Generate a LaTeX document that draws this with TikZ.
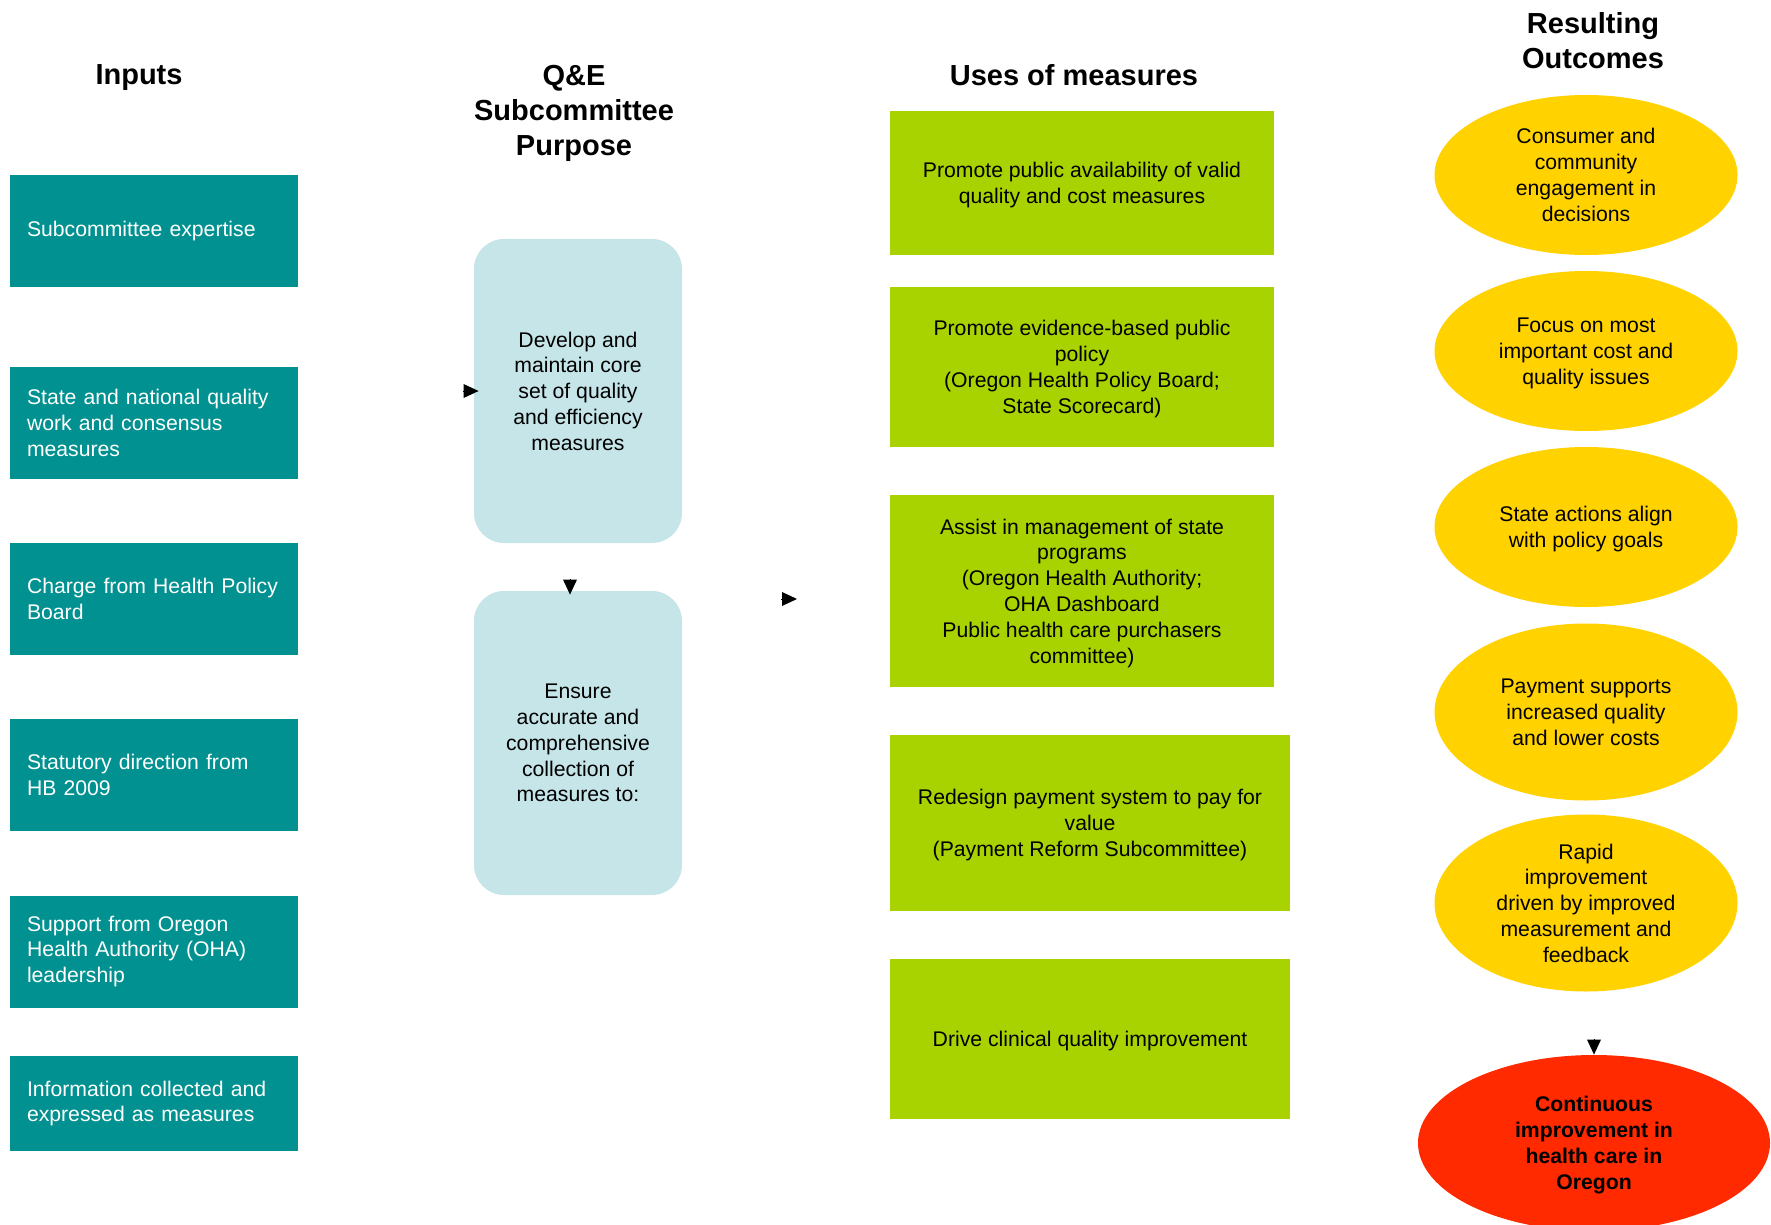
\documentclass[tikz,border=0pt]{standalone}
\usepackage{fontspec}
\setmainfont{Liberation Sans}
\usetikzlibrary{shapes.geometric,arrows.meta}
\definecolor{inteal}{HTML}{009190}
\definecolor{purpblue}{HTML}{C5E5E8}
\definecolor{usegreen}{HTML}{A9D300}
\definecolor{outyellow}{HTML}{FFD200}
\definecolor{finalred}{HTML}{FF2A00}
\tikzset{
  body/.style={font=\fontsize{10.6}{12.9}\selectfont},
  head/.style={font=\fontsize{14.5}{17.5}\selectfont\bfseries,align=center,
    text depth=0pt},
  inbox/.style={body,fill=inteal,text=white,align=left,text width=127pt,
    inner xsep=8.5pt,inner ysep=0pt,minimum height=56pt},
  purpbox/.style={body,fill=purpblue,rounded corners=15pt,align=center,
    text depth=0pt,minimum width=104pt,minimum height=152pt},
  usebox/.style={body,fill=usegreen,align=center,text depth=0pt,inner sep=0pt},
  outell/.style={body,ellipse,fill=outyellow,align=center,text depth=0pt,
    inner sep=0pt,minimum width=151.5pt},
  tip/.style={-{Triangle[length=7.5pt,width=7pt]},line width=0pt}
}
\begin{document}
\begin{tikzpicture}[x=0.5pt,y=-0.5pt]
  \useasboundingbox (0,0) rectangle (1771,1225);

  % column heads
  \node[head] (hin) at (139,75) {Inputs};
  \node[head] (hpurp) at (574,110) {Q\&E\\Subcommittee\\Purpose};
  \node[head] (huse) at (1074,75) {Uses of measures};
  \node[head] (hout) at (1593,40) {Resulting\\Outcomes};

  % inputs
  \foreach \n/\y/\t in {
      in1/231/{Subcommittee expertise},
      in2/423/{State and national quality\\work and consensus\\measures},
      in3/599/{Charge from Health Policy\\Board},
      in4/775/{Statutory direction from\\HB 2009},
      in5/951.5/{Support from Oregon\\Health Authority (OHA)\\leadership}}
    \node[inbox] (\n) at (154,\y) {\t};
  \node[inbox,minimum height=47.5pt] (in6) at (154,1103.5)
    {Information collected and\\expressed as measures};

  % purpose
  \node[purpbox] (dev) at (578,391)
    {Develop and\\maintain core\\set of quality\\and efficiency\\measures};
  \node[purpbox] (ens) at (578,743)
    {Ensure\\accurate and\\comprehensive\\collection of\\measures to:};

  % uses
  \node[usebox,minimum width=192pt,minimum height=72pt] (use1) at (1082,183)
    {Promote public availability of valid\\quality and cost measures};
  \node[usebox,minimum width=192pt,minimum height=80pt] (use2) at (1082,367)
    {Promote evidence-based public\\policy\\(Oregon Health Policy Board;\\State Scorecard)};
  \node[usebox,minimum width=192pt,minimum height=96pt] (use3) at (1082,591)
    {Assist in management of state\\programs\\(Oregon Health Authority;\\OHA Dashboard\\Public health care purchasers\\committee)};
  \node[usebox,minimum width=200pt,minimum height=88pt] (use4) at (1090,823)
    {Redesign payment system to pay for\\value\\(Payment Reform Subcommittee)};
  \node[usebox,minimum width=200pt,minimum height=80pt] (use5) at (1090,1039)
    {Drive clinical quality improvement};

  % outcomes
  \node[outell,minimum height=80pt] (out1) at (1586,175)
    {Consumer and\\community\\engagement in\\decisions};
  \node[outell,minimum height=80pt] (out2) at (1586,351)
    {Focus on most\\important cost and\\quality issues};
  \node[outell,minimum height=80pt] (out3) at (1586,527)
    {State actions align\\with policy goals};
  \node[outell,minimum height=88.5pt] (out4) at (1586,712)
    {Payment supports\\increased quality\\and lower costs};
  \node[outell,minimum height=88.5pt] (out5) at (1586,903)
    {Rapid\\improvement\\driven by improved\\measurement and\\feedback};
  \node[body,font=\fontsize{10.6}{12.9}\selectfont\bfseries,ellipse,
    fill=finalred,align=center,text depth=0pt,inner sep=0pt,
    minimum width=176pt,minimum height=88pt] (final) at (1594,1143)
    {Continuous\\improvement in\\health care in\\Oregon};

  % arrow heads
  \coordinate (a3from) at (781,599);
  \coordinate (a3to) at (797,599);
  \draw[tip] ([xshift=-5pt]dev.west) -- ([xshift=2.5pt]dev.west);
  \draw[tip] ([xshift=-4pt,yshift=5.5pt]ens.north) -- ([xshift=-4pt,yshift=-2pt]ens.north);
  \draw[tip] (a3from) -- (a3to);
  \draw[tip] ([yshift=7.5pt]final.north) -- (final.north);
\end{tikzpicture}
\end{document}
